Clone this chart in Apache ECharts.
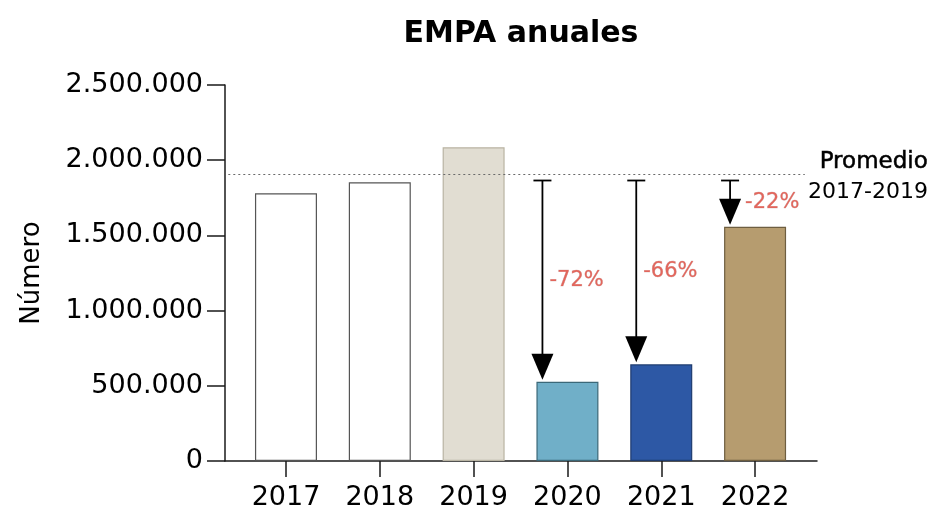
<!DOCTYPE html>
<html>
<head>
<meta charset="utf-8">
<script src="https://cdn.jsdelivr.net/npm/echarts@6/dist/echarts.min.js"></script>
<style>html,body{margin:0;padding:0;background:#fff;}#c{width:940px;height:522px;}</style>
</head>
<body>
<div id="c"></div>
<script>
const years = ['2017', '2018', '2019', '2020', '2021', '2022'];
const values = [1780000, 1853000, 2086000, 527000, 643000, 1558000];
const barColors = ['#ffffff', '#ffffff', '#e1ddd2', '#70afc8', '#2d58a5', '#b69c6f'];
const barBorders = ['#555555', '#555555', '#b9b4a3', '#3b6878', '#1f3c70', '#6e5e40'];
const arrowYears = [3, 4, 5];
const arrowStart = 1865000;
const changeLabels = ['-72%', '-66%', '-22%'];
const avgLabel = ['Promedio', '2017-2019'];

const FONT = 'DejaVu Sans';
const avg = (values[0] + values[1] + values[2]) / 3;

function fmt(v) {
  return String(v).replace(/\B(?=(\d{3})+(?!\d))/g, '.');
}

const arrowData = arrowYears.map((yi, i) => [yi, arrowStart, values[yi]]);

const chart = echarts.init(document.getElementById('c'), null, { renderer: 'canvas' });
chart.setOption({
  animation: false,
  backgroundColor: '#ffffff',
  title: {
    text: 'EMPA anuales',
    left: 516,
    top: 14,
    textAlign: 'center',
    textStyle: { fontFamily: FONT, fontSize: 30, fontWeight: 'bold', color: '#000' }
  },
  grid: { left: 225, right: 123, top: 85, bottom: 61, containLabel: false },
  xAxis: {
    type: 'value',
    min: -0.65,
    max: 5.66,
    splitLine: { show: false },
    axisLine: { show: true, onZero: false, lineStyle: { color: '#1a1a1a', width: 1.5 } },
    axisTick: { show: true, length: 16, customValues: [0, 1, 2, 3, 4, 5], lineStyle: { color: '#1a1a1a', width: 1.5 } },
    axisLabel: {
      customValues: [0, 1, 2, 3, 4, 5],
      formatter: v => years[Math.round(v)] || '',
      margin: 23,
      fontFamily: FONT, fontSize: 27, color: '#000'
    }
  },
  yAxis: {
    type: 'value',
    min: 0,
    max: 2500000,
    interval: 500000,
    name: 'Número',
    nameLocation: 'middle',
    nameGap: 180,
    nameTextStyle: { fontFamily: FONT, fontSize: 26, color: '#000' },
    splitLine: { show: false },
    axisLine: { show: true, onZero: false, lineStyle: { color: '#1a1a1a', width: 1.5 } },
    axisTick: { show: true, length: 18, lineStyle: { color: '#1a1a1a', width: 1.5 } },
    axisLabel: {
      formatter: v => fmt(v),
      margin: 22,
      fontFamily: FONT, fontSize: 27, color: '#000'
    }
  },
  series: [
    {
      type: 'bar',
      barWidth: 62,
      data: values.map((v, i) => ({
        value: [i, v],
        itemStyle: { color: barColors[i], borderColor: barBorders[i], borderWidth: 1.2 }
      })),
      markLine: {
        silent: true,
        symbol: ['none', 'none'],
        label: { show: false },
        lineStyle: { color: '#6a6a6a', width: 1, type: [2, 3] },
        data: [[{ coord: [-0.615, avg] }, { coord: [5.53, avg] }]]
      },
      z: 2
    },
    {
      type: 'custom',
      z: 5,
      data: arrowData,
      renderItem: function (params, api) {
        const x = api.value(0), from = api.value(1), to = api.value(2);
        const label = changeLabels[params.dataIndex];
        const p0 = api.coord([x, from]);
        const p1 = api.coord([x, to]);
        const ax = p0[0] - 25;
        const tipY = p1[1] - 2;
        const headH = 26, headW = 22, capW = 18;
        const midY = (p0[1] + p1[1]) / 2 - 1;
        const inHead = midY > tipY - headH - 4;
        return {
          type: 'group',
          children: [
            { type: 'line', shape: { x1: ax, y1: p0[1], x2: ax, y2: tipY - headH + 2 }, style: { stroke: '#000', lineWidth: 1.8 } },
            { type: 'line', shape: { x1: ax - capW / 2, y1: p0[1], x2: ax + capW / 2, y2: p0[1] }, style: { stroke: '#000', lineWidth: 1.8 } },
            { type: 'polygon', shape: { points: [[ax - headW / 2, tipY - headH], [ax + headW / 2, tipY - headH], [ax, tipY]] }, style: { fill: '#000' } },
            {
              type: 'text',
              x: ax + (inHead ? 15 : 7),
              y: midY,
              style: {
                text: label, fill: '#e2665c', font: '21px "' + FONT + '"',
                align: 'left', verticalAlign: 'middle',
                stroke: 'rgba(120,40,40,0.35)', lineWidth: 0.6
              }
            }
          ]
        };
      }
    }
  ],
  graphic: [
    {
      type: 'text', right: 940 - 928, top: 150,
      style: { text: avgLabel[0], font: '23px "' + FONT + '"', fill: '#000', align: 'right', stroke: '#000', lineWidth: 0.5 }
    },
    {
      type: 'text', right: 940 - 928, top: 181,
      style: { text: avgLabel[1], font: '22px "' + FONT + '"', fill: '#000', align: 'right' }
    }
  ]
});
</script>
</body>
</html>
